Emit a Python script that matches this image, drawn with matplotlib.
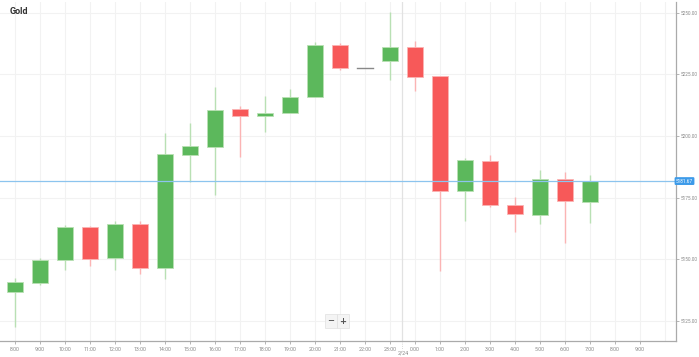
import matplotlib
matplotlib.use("Agg")
import matplotlib.pyplot as plt
from matplotlib.patches import Rectangle

# ---- data ----
hour_labels = ["8:00", "9:00", "10:00", "11:00", "12:00", "13:00", "14:00", "15:00",
               "16:00", "17:00", "18:00", "19:00", "20:00", "21:00", "22:00", "23:00",
               "0:00", "1:00", "2:00", "3:00", "4:00", "5:00", "6:00", "7:00",
               "8:00", "9:00"]
opens  = [5136.8, 5140.2, 5149.7, 5163.2, 5150.3, 5164.1, 5146.5, 5192.3, 5195.3, 5210.9,
          5208.1, 5209.3, 5215.6, 5236.7, 5227.7, 5230.2, 5236.0, 5224.3, 5177.5, 5189.9,
          5171.9, 5167.9, 5182.7, 5173.3]
highs  = [5142.3, 5150.4, 5163.7, 5163.6, 5165.6, 5165.4, 5201.2, 5205.2, 5219.8, 5212.1,
          5216.1, 5219.0, 5238.0, 5237.8, 5227.7, 5250.1, 5238.4, 5224.3, 5191.0, 5192.1,
          5175.3, 5186.0, 5185.4, 5184.0]
lows   = [5122.6, 5139.6, 5145.5, 5147.1, 5145.7, 5144.1, 5142.1, 5181.3, 5176.2, 5191.5,
          5201.6, 5209.3, 5215.6, 5226.7, 5227.7, 5222.6, 5218.3, 5145.3, 5165.6, 5171.3,
          5161.2, 5164.1, 5156.7, 5164.5]
closes = [5140.6, 5149.7, 5163.2, 5150.0, 5164.2, 5146.5, 5192.7, 5195.7, 5210.5, 5208.1,
          5209.3, 5215.7, 5236.7, 5227.7, 5227.7, 5236.2, 5223.9, 5177.5, 5190.2, 5171.9,
          5168.2, 5182.7, 5173.5, 5181.67]
y_ticks = [5125, 5150, 5175, 5200, 5225, 5250]
last_price = 5181.67
day_label = "2/24"
day_boundary = 15.5
title = "Gold"

GREEN = "#5cb85c"
RED = "#f75959"
GREEN_W = "#b9e0b4"
RED_W = "#fbb4b4"
FONT = ["Roboto", "DejaVu Sans"]

W, H = 699, 357
fig = plt.figure(figsize=(W / 100, H / 100), dpi=100)
fig.patch.set_facecolor("white")
ax = fig.add_axes([0, 1 - 341 / H, 676 / W, 339 / H])

XMIN, XMAX = -0.6, 26.44
YMIN, YMAX = 5116.8, 5254.3
ax.set_xlim(XMIN, XMAX)
ax.set_ylim(YMIN, YMAX)

# grid
for i in range(-1, 28):
    ax.axvline(i, color="#f2f2f2", lw=0.8, zorder=0)
for v in y_ticks:
    ax.axhline(v, color="#f2f2f2", lw=0.8, zorder=0)
ax.axvline(day_boundary, color="#e2e2e2", lw=0.9, zorder=0)

bw = 0.65
for i, (o, h, l, c) in enumerate(zip(opens, highs, lows, closes)):
    if c > o:
        col, wc = GREEN, GREEN_W
    elif c < o:
        col, wc = RED, RED_W
    else:
        col, wc = "#888888", "#888888"
    ax.plot([i, i], [l, h], color=wc, lw=1.0, zorder=2, solid_capstyle="butt")
    if c == o:
        ax.plot([i - bw / 2, i + bw / 2], [o, o], color="#888888", lw=1.0, zorder=3)
    else:
        ax.add_patch(Rectangle((i - bw / 2, min(o, c)), bw, abs(c - o),
                               facecolor=col, edgecolor=wc, lw=0.6, zorder=3))

# current price line
ax.axhline(last_price, color="#8cc4ee", lw=0.9, zorder=4)

# spines
for s in ["top", "left"]:
    ax.spines[s].set_visible(False)
ax.spines["right"].set_color("#aaaaaa")
ax.spines["bottom"].set_color("#aaaaaa")
ax.spines["right"].set_linewidth(0.9)
ax.spines["bottom"].set_linewidth(0.9)

ax.yaxis.tick_right()
ax.set_yticks(y_ticks)
ax.set_yticklabels([f"{v:.2f}" for v in y_ticks], fontfamily=FONT)
ax.set_xticks(range(len(hour_labels)))
ax.set_xticklabels(hour_labels, fontfamily=FONT)
ax.tick_params(axis="y", labelsize=3.4, colors="#aaaaaa", labelcolor="#888888",
               length=2.5, width=0.6, pad=1)
ax.tick_params(axis="x", labelsize=3.8, colors="#aaaaaa", labelcolor="#888888",
               length=2.5, width=0.6, pad=1.5)

# last price label
ax.text(XMAX, last_price, f"{last_price:.2f}", transform=ax.transData,
        fontsize=3.4, fontfamily=FONT, color="white", va="center", ha="left",
        clip_on=False, zorder=6,
        bbox=dict(boxstyle="round,pad=0.3,rounding_size=0.25", fc="#3d9be9", ec="none"))

# day label
ax.plot([day_boundary, day_boundary], [YMIN, YMIN - 3.5], color="#cccccc", lw=0.6,
        ls=":", clip_on=False)
fig.text(403 / W, 1 - 353 / H, day_label, fontsize=3.8, fontfamily=FONT,
         color="#888888", ha="center", va="center")

# title
fig.text(10 / W, 1 - 12 / H, title, fontsize=6.5, fontweight="bold", color="#333333",
         fontfamily=FONT, ha="left", va="center")

# zoom buttons
for xc, sym in [(331, "\u2212"), (343, "+")]:
    fig.text(xc / W, 1 - 321 / H, sym, fontsize=6, color="#555555", ha="center",
             va="center", fontweight="bold",
             bbox=dict(boxstyle="square,pad=0.25", fc="#f4f4f4", ec="#e0e0e0", lw=0.5))

fig.savefig("out.png", dpi=100, facecolor="white")
